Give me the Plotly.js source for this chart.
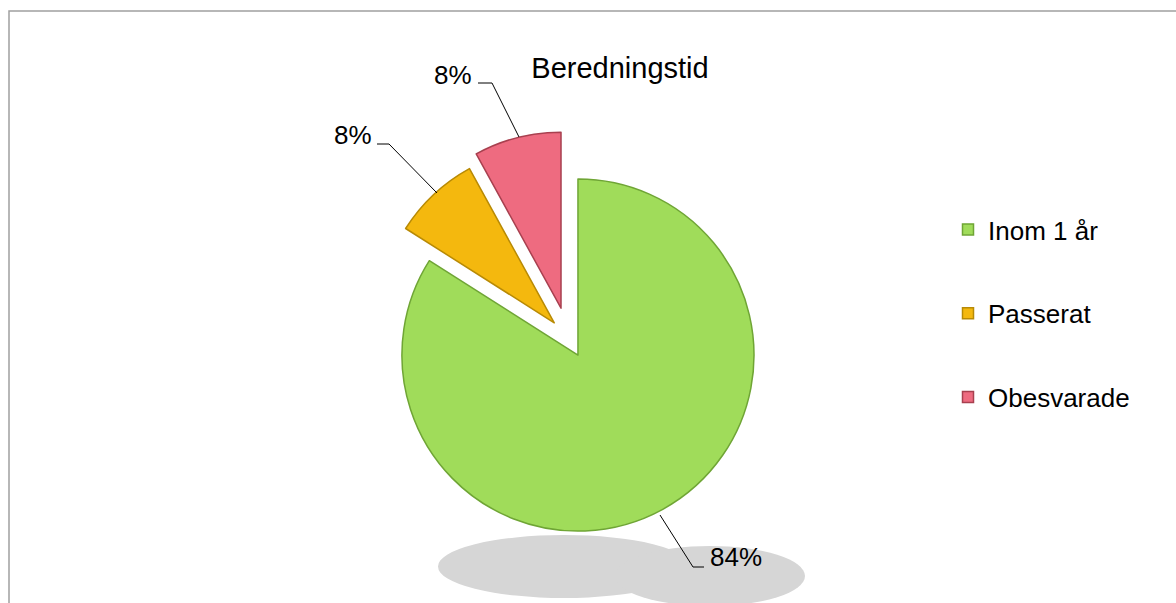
<!DOCTYPE html>
<html>
<head>
<meta charset="utf-8">
<script src="https://cdn.plot.ly/plotly-3.0.1.min.js"></script>
<style>
  html, body { margin: 0; padding: 0; background: #ffffff; }
  #chart { width: 1176px; height: 603px; }
</style>
</head>
<body>
<div id="chart"></div>
<script>
// ---- data ----
var categories = ["Inom 1 år", "Passerat", "Obesvarade"];
var values = [84, 8, 8];
var titleText = "Beredningstid";

// ---- styles ----
var sliceColors = ["#A0DC5A", "#F4B80E", "#EE6B80"];
var edgeColors = ["#6FA535", "#B88A05", "#A8404F"];
var pulls = [0.109, 0.12, 0.176];

var W = 1176, H = 603;
var FONT = "Liberation Sans, Arial, sans-serif";
function px(x) { return x / W; }
function py(y) { return 1 - y / H; }

var total = values.reduce(function (a, b) { return a + b; }, 0);
var pctText = values.map(function (v) { return Math.round(v / total * 100) + "%"; });

var traces = [{
  type: "pie",
  labels: categories,
  values: values,
  sort: false,
  direction: "clockwise",
  rotation: 0,
  pull: pulls,
  textinfo: "none",
  hoverinfo: "label+percent",
  showlegend: false,
  marker: { colors: sliceColors, line: { color: edgeColors, width: 1.5 } },
  domain: { x: [0.2836, 0.6836], y: [0.0958, 0.7824] }
}];

// legend entries (one per category, spaced like the original)
categories.forEach(function (c, i) {
  traces.push({
    type: "scatter",
    mode: "markers",
    x: [null], y: [null],
    name: c,
    legendgroup: "g" + i,
    showlegend: true,
    hoverinfo: "skip",
    marker: { symbol: "square", size: 11, color: sliceColors[i], line: { color: edgeColors[i], width: 1.5 } }
  });
});

// label positions and leader lines (px)
var labelPos = [[735.5, 557], [353.4, 134.5], [453, 74.5]];
var leaders = [
  [[660, 515], [693, 567], [704, 567]],
  [[377, 144], [389, 144], [437, 193]],
  [[478, 83], [492, 83], [519, 137]]
];

var annotations = pctText.map(function (t, i) {
  return {
    text: t, xref: "paper", yref: "paper",
    x: px(labelPos[i][0]), y: py(labelPos[i][1]),
    xanchor: "center", yanchor: "middle", showarrow: false,
    font: { family: FONT, size: 26, color: "#000000" }
  };
});

var shapes = [
  // chart area border
  { type: "rect", xref: "paper", yref: "paper", x0: px(9), x1: 1.02, y0: py(11), y1: -0.05,
    line: { color: "#A0A0A0", width: 1.5 }, fillcolor: "rgba(0,0,0,0)", layer: "below" },
  // shadow under the pie
  { type: "circle", xref: "paper", yref: "paper", x0: px(438), x1: px(690), y0: py(598), y1: py(535),
    fillcolor: "#D6D6D6", line: { width: 0 }, layer: "below" },
  { type: "circle", xref: "paper", yref: "paper", x0: px(615), x1: px(805), y0: py(606), y1: py(546),
    fillcolor: "#D6D6D6", line: { width: 0 }, layer: "below" }
];
leaders.forEach(function (pts) {
  var d = pts.map(function (p, k) { return (k ? "L" : "M") + px(p[0]) + "," + py(p[1]); }).join(" ");
  shapes.push({ type: "path", xref: "paper", yref: "paper", path: d, line: { color: "#000000", width: 1 } });
});

var layout = {
  width: W, height: H,
  margin: { l: 0, r: 0, t: 0, b: 0, pad: 0 },
  paper_bgcolor: "#ffffff",
  plot_bgcolor: "#ffffff",
  font: { family: FONT, color: "#000000" },
  title: {
    text: titleText, x: px(620), xanchor: "center", y: 1 - 68 / H, yanchor: "middle",
    font: { family: FONT, size: 29, color: "#000000" }
  },
  xaxis: { visible: false },
  yaxis: { visible: false },
  showlegend: true,
  legend: {
    x: px(948), xanchor: "left", y: py(206), yanchor: "top",
    traceorder: "grouped", tracegroupgap: 47,
    font: { family: FONT, size: 26, color: "#000000" },
    bgcolor: "rgba(0,0,0,0)", borderwidth: 0
  },
  annotations: annotations,
  shapes: shapes
};

Plotly.newPlot("chart", traces, layout, { displayModeBar: false, staticPlot: true });
</script>
</body>
</html>
